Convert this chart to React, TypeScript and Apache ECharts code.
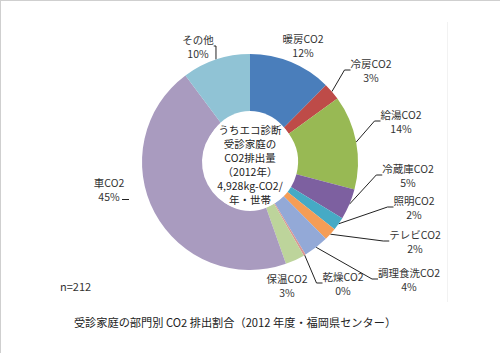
import React, { useEffect, useRef } from "react";
import * as echarts from "echarts";

const categories = ["暖房CO2", "冷房CO2", "給湯CO2", "冷蔵庫CO2", "照明CO2", "テレビCO2", "調理食洗CO2", "乾燥CO2", "保温CO2", "車CO2", "その他"];
const shares = [12.4, 2.6, 14.1, 4.6, 2.0, 1.9, 3.8, 0.3, 2.9, 45.2, 10.2];
const sliceColors = ["#4a7ebb", "#be4b48", "#98b954", "#7d60a0", "#46aac5", "#f59d56", "#93a9d7", "#d99694", "#bdd49b", "#a99bbf", "#90c3d5"];
const centerLines = ["うちエコ診断", "受診家庭の", "CO2排出量", "（2012年）", "4,928kg-CO2/", "年・世帯"];
const titleText = "受診家庭の部門別 CO2 排出割合（2012 年度・福岡県センター）";
const sampleText = "n=212";

// label anchor positions (layout only)
const labelPos: [number, number][] = [
  [303, 45], [371, 70], [401, 121], [408, 175], [414, 207], [415, 241],
  [409, 279], [343, 283], [287, 285], [109, 189], [198, 46],
];
const noLine = [0, 8, 9];

const FONT = "'Noto Sans CJK JP', 'Noto Sans', sans-serif";

export default function App() {
  const ref = useRef<HTMLDivElement>(null);
  useEffect(() => {
    if (!ref.current) return;
    const chart = echarts.init(ref.current, null, { renderer: "svg" });
    const centerGraphics = centerLines.map((t, i) => ({
      type: "text",
      x: 250,
      y: 129 + i * 14,
      z: 10,
      style: {
        text: t,
        fill: "#222",
        fontSize: 10.5,
        fontFamily: FONT,
        align: "center",
        verticalAlign: "middle",
      },
    }));
    chart.setOption({
      animation: false,
      backgroundColor: "#ffffff",
      textStyle: { fontFamily: FONT },
      series: [
        {
          type: "pie",
          center: [250, 162],
          radius: [48, 108],
          startAngle: 90,
          clockwise: true,
          avoidLabelOverlap: false,
          itemStyle: { borderWidth: 0 },
          label: {
            show: true,
            position: "outside",
            color: "#333",
            fontSize: 10.5,
            lineHeight: 14,
            align: "center",
            fontFamily: FONT,
            formatter: (p: any) => `${p.name}\n${Math.round(p.value)}%`,
          },
          labelLine: {
            show: true,
            length: 6,
            length2: 6,
            lineStyle: { color: "#222", width: 1 },
          },
          labelLayout: (params: any) => {
            const pos = labelPos[params.dataIndex];
            return { x: pos[0], y: pos[1], align: "center", verticalAlign: "middle" };
          },
          data: categories.map((name, i) => ({
            name,
            value: shares[i],
            itemStyle: { color: sliceColors[i] },
            labelLine: { show: !noLine.includes(i) },
          })),
        },
      ],
      graphic: [
        { type: "ellipse", shape: { cx: 250, cy: 161, rx: 46, ry: 50 }, style: { fill: "#ffffff" }, z: 5 },
        ...centerGraphics,
        { type: "line", shape: { x1: 122, y1: 199.5, x2: 129, y2: 199.5 }, style: { stroke: "#222", lineWidth: 1 } },
        {
          type: "text",
          x: 60,
          y: 286,
          style: { text: sampleText, fill: "#333", fontSize: 11, fontFamily: FONT, verticalAlign: "middle" },
        },
        {
          type: "text",
          x: 235,
          y: 322,
          style: { text: titleText, fill: "#222", fontSize: 11.2, fontFamily: FONT, align: "center", verticalAlign: "middle" },
        },
        { type: "line", shape: { x1: 0, y1: 0.5, x2: 500, y2: 0.5 }, style: { stroke: "#cfcfcf", lineWidth: 1 } },
        { type: "line", shape: { x1: 0.5, y1: 0, x2: 0.5, y2: 353 }, style: { stroke: "#cfcfcf", lineWidth: 1 } },
        { type: "line", shape: { x1: 447.5, y1: 22, x2: 447.5, y2: 302 }, style: { stroke: "#f2f2f2", lineWidth: 1 } },
      ],
    });
    return () => chart.dispose();
  }, []);
  return (
    <div
      ref={ref}
      style={{ position: "fixed", left: 0, top: 0, width: 500, height: 353 }}
    />
  );
}
